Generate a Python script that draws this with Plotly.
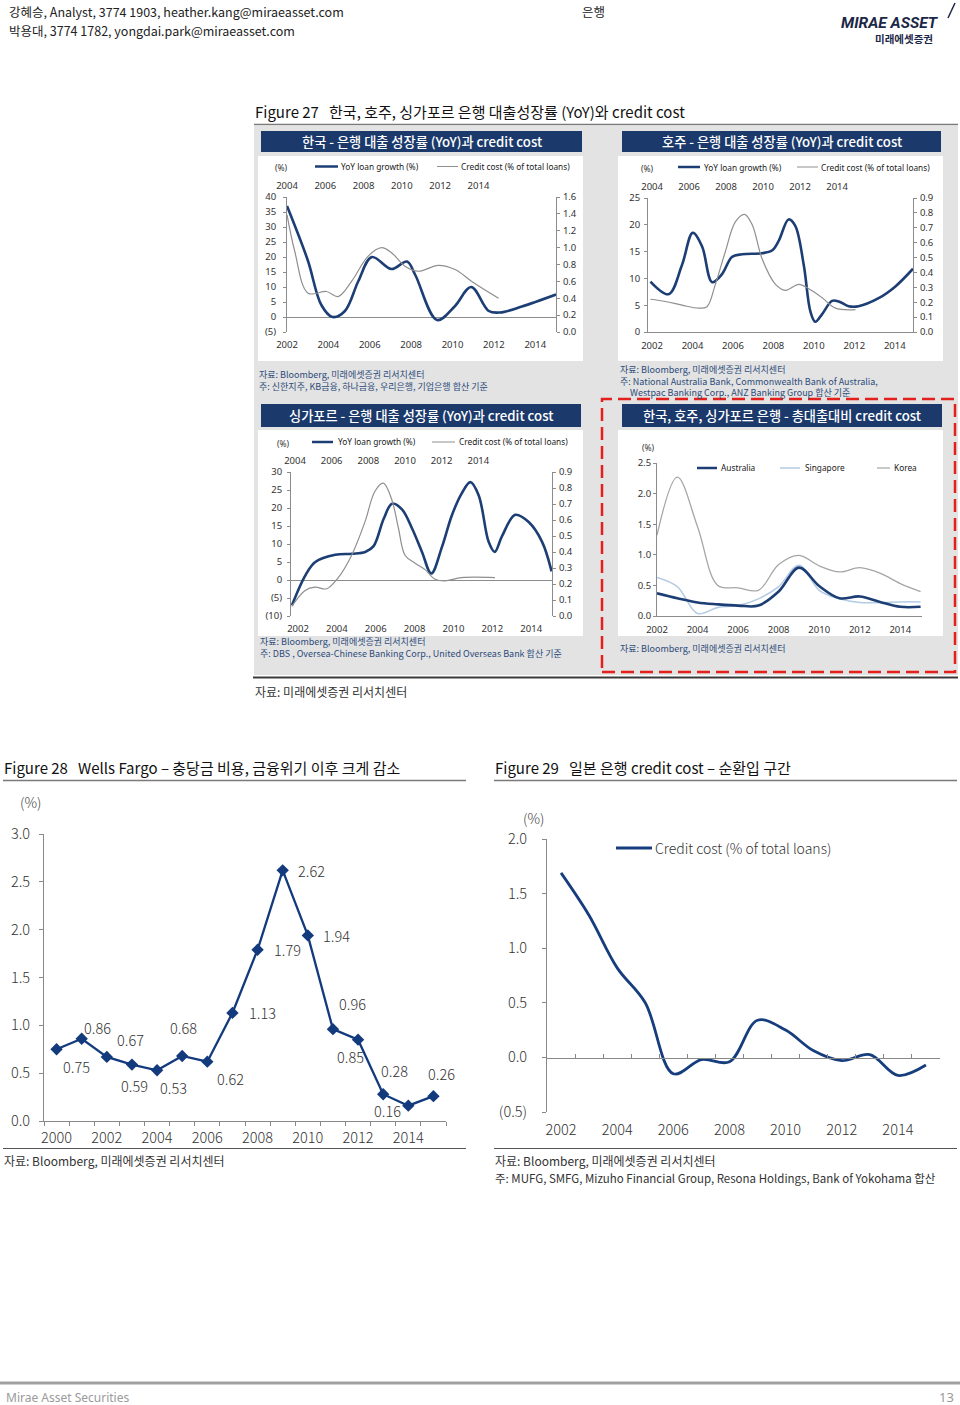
import plotly.graph_objects as go

W, H = 960, 1405
KR = "Noto Sans CJK KR"
SANS = "Noto Sans"

# ---------------- data ----------------
# Figure 27 (a) Korea: YoY loan growth (bottom axis) and credit cost (top axis)
kr_growth_years = [2002.0, 2003.0, 2003.66, 2004.2, 2004.8, 2005.45, 2006.1, 2007.05, 2007.8,
                   2008.2, 2009.25, 2010.1, 2010.9, 2011.75, 2012.3, 2013.35, 2015.0]
kr_growth = [37, 19, 4, 0, 2, 12, 20, 16, 18.5, 14, -1, 3.5, 10, 2, 1.5, 3.5, 7.5]
kr_cost_years = [2004.0, 2004.4, 2005.1, 2006.06, 2006.67, 2007.37, 2008.24, 2008.94, 2009.46,
                 2010.16, 2010.86, 2011.9, 2012.78, 2013.65, 2015.05]
kr_cost = [1.39, 0.96, 0.46, 0.48, 0.42, 0.6, 0.9, 1.0, 0.94, 0.78, 0.72, 0.79, 0.74, 0.6, 0.4]

# Figure 27 (b) Australia
au_growth_years = [2001.92, 2002.82, 2003.48, 2004.01, 2004.47, 2004.97, 2005.46, 2005.95, 2006.45,
                   2007.44, 2007.93, 2008.26, 2008.75, 2009.08, 2009.5, 2009.83, 2010.07, 2010.4,
                   2010.9, 2011.23, 2011.72, 2012.21, 2013.2, 2014.03, 2014.9]
au_growth = [9.4, 7.05, 12.5, 18.5, 16.0, 9.3, 10.8, 14.0, 14.5, 14.7, 15.2, 17.0, 21.0, 19.8,
             12.5, 3.8, 1.9, 3.3, 5.8, 5.7, 4.8, 4.8, 6.3, 8.5, 11.8]
au_cost_years = [2003.91, 2004.72, 2005.62, 2006.52, 2006.97, 2007.42, 2007.96, 2008.5, 2009.0,
                 2009.41, 2009.95, 2010.67, 2011.21, 2011.93, 2012.47, 2013.19, 2013.91, 2014.99]
au_cost = [0.22, 0.205, 0.18, 0.16, 0.17, 0.32, 0.54, 0.74, 0.79, 0.72, 0.49, 0.32, 0.28, 0.32,
           0.29, 0.23, 0.16, 0.15]

# Figure 27 (c) Singapore
sg_growth_years = [2001.69, 2002.38, 2002.89, 2003.92, 2004.78, 2005.46, 2005.89, 2006.41, 2006.84,
                   2007.35, 2007.87, 2008.38, 2008.86, 2009.41, 2009.92, 2010.44, 2010.87, 2011.3,
                   2011.81, 2012.12, 2012.5, 2013.18, 2013.87, 2014.56, 2015.05]
sg_growth = [-7, 1.3, 5, 7, 7.3, 7.8, 9.4, 17, 21.2, 19.6, 14.3, 7.8, 1.8, 9.2, 18, 24.2, 27.2,
             23.5, 10.6, 7.8, 12.2, 18.1, 16.1, 10.6, 2.4]
sg_cost_years = [2003.82, 2004.55, 2005.09, 2005.73, 2006.36, 2007.09, 2007.82, 2008.36, 2008.82,
                 2009.27, 2009.64, 2010.0, 2010.55, 2011.09, 2011.64, 2012.18, 2013.09, 2014.91]
sg_cost = [0.06, 0.16, 0.18, 0.17, 0.24, 0.38, 0.59, 0.78, 0.83, 0.73, 0.55, 0.38, 0.33, 0.29,
           0.23, 0.22, 0.24, 0.24]

# Figure 27 (d) credit cost comparison
cmp_years = list(range(2002, 2016))
cmp_australia = [0.37, 0.29, 0.22, 0.19, 0.17, 0.17, 0.40, 0.79, 0.49, 0.29, 0.32, 0.23, 0.15, 0.15]
cmp_singapore = [0.63, 0.48, 0.04, 0.14, 0.17, 0.28, 0.48, 0.83, 0.42, 0.28, 0.22, 0.22, 0.23, 0.23]
cmp_korea = [1.32, 2.27, 1.46, 0.50, 0.46, 0.42, 0.84, 0.99, 0.82, 0.72, 0.79, 0.70, 0.53, 0.40]

# Figure 28 Wells Fargo
wf_years = list(range(2000, 2016))
wf_cost = [0.75, 0.86, 0.67, 0.59, 0.53, 0.68, 0.62, 1.13, 1.79, 2.62, 1.94, 0.96, 0.85, 0.28, 0.16, 0.26]

# Figure 29 Japan
jp_years = list(range(2002, 2016))
jp_cost = [1.69, 1.30, 0.82, 0.50, -0.15, -0.02, -0.04, 0.34, 0.25, 0.06, -0.03, 0.025, -0.165, -0.07]

# tick labels
inset_bottom_ticks = [2002, 2004, 2006, 2008, 2010, 2012, 2014]
inset_top_ticks = [2004, 2006, 2008, 2010, 2012, 2014]
wf_year_ticks = [2000, 2002, 2004, 2006, 2008, 2010, 2012, 2014]
jp_year_ticks = [2002, 2004, 2006, 2008, 2010, 2012, 2014]

# ---------------- helpers ----------------
annotations, shapes = [], []


def X(px):
    return px / W


def Y(py):
    return 1 - py / H


def text(x, y, s, size=12, color="#222", xa="left", ya="middle", family=KR, weight=None, align=None):
    f = dict(size=size, color=color, family=family)
    if weight:
        f["weight"] = weight
    a = dict(x=X(x), y=Y(y), xref="paper", yref="paper", text=s, showarrow=False,
             xanchor=xa, yanchor=ya, font=f, borderpad=0)
    if align:
        a["align"] = align
    annotations.append(a)


def rect(x0, y0, x1, y1, fill=None, line=None, width=1, dash=None, layer="below"):
    shapes.append(dict(type="rect", xref="paper", yref="paper", x0=X(x0), x1=X(x1),
                       y0=Y(y1), y1=Y(y0), fillcolor=fill or "rgba(0,0,0,0)",
                       line=dict(color=line or "rgba(0,0,0,0)", width=width if line else 0,
                                 dash=dash), layer=layer))


def seg(x0, y0, x1, y1, color, width=1, layer="above"):
    shapes.append(dict(type="line", xref="paper", yref="paper", x0=X(x0), x1=X(x1),
                       y0=Y(y0), y1=Y(y1), line=dict(color=color, width=width), layer=layer))


def hline(x0, x1, y, color, width=1, layer="above"):
    seg(x0, y, x1, y, color, width, layer)


def dom_x(a, b):
    return [X(a), X(b)]


def dom_y(top, bottom):
    return [Y(bottom), Y(top)]


NAVY = "#1c3e75"
BAR = "#1b3a6b"
GRAY = "#8f8f8f"
AX = "#8c8c8c"
SRC = "#2d4b7a"
TICK9 = dict(size=9.5, color="#333", family=SANS)


def neg_label(v, fmt="{:g}"):
    return "(" + fmt.format(-v) + ")" if v < 0 else fmt.format(v)


def xaxis_years(dom, rng, vals, **kw):
    d = dict(range=rng, tickmode="array", tickvals=vals,
             ticktext=[str(v) for v in vals], showgrid=False, zeroline=False,
             showline=False, ticks="", tickfont=TICK9, fixedrange=True, automargin=False)
    if dom is not None:
        d["domain"] = dom
    d.update(kw)
    return d


def yaxis_vals(dom, rng, vals, fmt="{:g}", **kw):
    d = dict(range=rng, tickmode="array", tickvals=vals,
             ticktext=[neg_label(v, fmt) for v in vals], showgrid=False, zeroline=False,
             showline=True, linecolor=AX, linewidth=1, ticks="outside", ticklen=3,
             tickcolor=AX, tickfont=TICK9, fixedrange=True, automargin=False)
    if dom is not None:
        d["domain"] = dom
    d.update(kw)
    return d


# ---------------- page furniture ----------------
text(8, 12, "강혜승, Analyst, 3774 1903, heather.kang@miraeasset.com", size=12.5, color="#222")
text(8, 30, "박용대, 3774 1782, yongdai.park@miraeasset.com", size=12.5, color="#222")
text(593, 12, "은행", size=12.5, xa="center", color="#222")
text(890, 23, "<b><i>MIRAE ASSET</i></b>", size=15.5, xa="center", color="#1b2747", family="Roboto")
text(904, 38.5, "<b>미래에셋증권</b>", size=10.5, xa="center", color="#1b2747")
seg(948, 18, 955, 3, "#1b2747", 1.5)

# Figure 27
text(254, 111, "Figure 27   한국, 호주, 싱가포르 은행 대출성장률 (YoY)와 credit cost", size=15, color="#111")
hline(254, 958, 124.5, "#7a7a7a", 1.5)
rect(254, 126, 958, 675, fill="#e3e3e3")
hline(253, 958, 677.5, "#3a3a3a", 2)
for (x0, y0, x1, y1) in [(258, 156, 583, 361), (618, 156, 943, 361), (258, 430, 583, 636), (618, 430, 943, 636)]:
    rect(x0, y0, x1, y1, fill="white")
bars = [((261, 131, 582, 152), "한국 - 은행 대출 성장률 (YoY)과 credit cost"),
        ((622, 131, 941, 152), "호주 - 은행 대출 성장률 (YoY)과 credit cost"),
        ((261, 404, 581, 427), "싱가포르 - 은행 대출 성장률 (YoY)과 credit cost"),
        ((622, 404, 942, 427), "한국, 호주, 싱가포르 은행 - 총대출대비 credit cost")]
for (x0, y0, x1, y1), t in bars:
    rect(x0, y0, x1, y1, fill=BAR)
    text((x0 + x1) / 2, (y0 + y1) / 2 + 0.5, t, size=13.2, color="white", xa="center", weight=500)
rect(602, 399, 955, 672, line="#e3201b", width=2.5, dash="13px,6px", layer="above")

# inset legends
for (px, lx0, lx1, ly, tx, gx0, gx1, gtx) in [(281, 315, 338, 166.5, 340, 437, 458, 460),
                                               (647, 678, 700, 167, 703, 797, 818, 820),
                                               (283, 312, 333, 442, 337, 432, 455, 458)]:
    text(px, ly + 1.5, "(%)", size=8.5, color="#333", xa="center", family=SANS)
    hline(lx0, lx1, ly, NAVY, 2.5)
    text(tx, ly, "YoY loan growth (%)", size=8.3, color="#222", family=SANS)
    hline(gx0, gx1, ly, GRAY, 1)
    text(gtx, ly, "Credit cost (% of total loans)", size=8.3, color="#222", family=SANS)

text(648, 447, "(%)", size=8.5, color="#333", xa="center", family=SANS)
hline(697, 717, 468, NAVY, 2.5)
text(720, 468, "Australia", size=8.3, color="#222", family=SANS)
hline(780, 800, 468, "#b3cbe3", 1.5)
text(804, 468, "Singapore", size=8.3, color="#222", family=SANS)
hline(877, 890, 468, "#a6a6a6", 1.2)
text(893, 468, "Korea", size=8.3, color="#222", family=SANS)

# inset sources (multi-line blocks)
SRC_SIZE = 9.0
NB = "\u00a0"
text(258, 380, "자료: Bloomberg, 미래에셋증권 리서치센터<br>주: 신한지주, KB금융, 하나금융, 우리은행, 기업은행 합산 기준",
     size=SRC_SIZE, color=SRC, align="left")
text(619, 380.5, "자료: Bloomberg, 미래에셋증권 리서치센터<br>주: National Australia Bank, Commonwealth Bank of Australia,<br>"
     + NB * 5 + "Westpac Banking Corp., ANZ Banking Group 합산 기준",
     size=SRC_SIZE, color=SRC, align="left")
text(259, 647.5, "자료: Bloomberg, 미래에셋증권 리서치센터<br>주: DBS , Oversea-Chinese Banking Corp., United Overseas Bank 합산 기준",
     size=SRC_SIZE, color=SRC, align="left")
text(619, 648.5, "자료: Bloomberg, 미래에셋증권 리서치센터", size=SRC_SIZE, color=SRC)

text(254, 691, "자료: 미래에셋증권 리서치센터", size=12, color="#333")

# Figure 28 / 29 titles and notes
text(3, 767, "Figure 28   Wells Fargo – 충당금 비용, 금융위기 이후 크게 감소", size=15, color="#111")
hline(3, 466, 780.5, "#7a7a7a", 1.5)
text(494, 767, "Figure 29   일본 은행 credit cost – 순환입 구간", size=15, color="#111")
hline(494, 957, 780.5, "#7a7a7a", 1.5)
text(30, 802, "(%)", size=14, color="#444", xa="center", weight=300)
text(533, 818, "(%)", size=14, color="#444", xa="center", weight=300)
hline(616, 652, 848, "#163d7d", 3)
text(654, 848, "Credit cost (% of total loans)", size=14, color="#333", weight=300)
hline(3, 466, 1148.5, "#555", 1)
hline(494, 957, 1148.5, "#555", 1)
text(3, 1160, "자료: Bloomberg, 미래에셋증권 리서치센터", size=12, color="#333")
text(494, 1160, "자료: Bloomberg, 미래에셋증권 리서치센터", size=12, color="#333")
text(494, 1178, "주: MUFG, SMFG, Mizuho Financial Group, Resona Holdings, Bank of Yokohama 합산", size=11.5, color="#333")

# footer
hline(0, 960, 1383, "#a0a0a0", 3)
text(5, 1397, "Mirae Asset Securities", size=12, color="#9a9a9a", family=SANS)
text(955, 1397, "13", size=13, color="#9a9a9a", xa="right", family=SANS)

# ---------------- traces ----------------
fig = go.Figure()


def line(x, y, xa, ya, color, width, shape="spline"):
    fig.add_trace(go.Scatter(x=x, y=y, xaxis=xa, yaxis=ya, mode="lines",
                             line=dict(color=color, width=width, shape=shape, smoothing=1.0),
                             hoverinfo="skip", showlegend=False))


line(kr_cost_years, kr_cost, "x2", "y2", GRAY, 1.2)
line(kr_growth_years, kr_growth, "x", "y", NAVY, 2.6)
line(au_cost_years, au_cost, "x4", "y4", GRAY, 1.2)
line(au_growth_years, au_growth, "x3", "y3", NAVY, 2.6)
line(sg_cost_years, sg_cost, "x6", "y6", GRAY, 1.2)
line(sg_growth_years, sg_growth, "x5", "y5", NAVY, 2.6)
line(cmp_years, cmp_korea, "x7", "y7", "#a6a6a6", 1.3)
line(cmp_years, cmp_singapore, "x7", "y7", "#b3cbe3", 1.5)
line(cmp_years, cmp_australia, "x7", "y7", NAVY, 2.6)

WF = "#123a7c"
fig.add_trace(go.Scatter(x=wf_years, y=wf_cost, xaxis="x8", yaxis="y8", mode="lines+markers",
                         line=dict(color=WF, width=2.3),
                         marker=dict(symbol="diamond", size=9.5, color=WF),
                         hoverinfo="skip", showlegend=False))
fig.add_trace(go.Scatter(x=[None], y=[None], xaxis="x9", yaxis="y8", mode="lines",
                         hoverinfo="skip", showlegend=False))
line(jp_years, jp_cost, "x10", "y10", "#163d7d", 2.8)
fig.add_trace(go.Scatter(x=[None], y=[None], xaxis="x11", yaxis="y10", mode="lines",
                         hoverinfo="skip", showlegend=False))

# data labels for Wells Fargo (pixel offsets from each point)
wf_label_offsets = [(20, 17), (16, -11), (24, -17), (3, 21), (16, 17), (1, -28), (23, 17), (30, 0),
                    (30, 0), (29, 0), (29, 0), (20, -26), (-8, 17), (11, -24), (-21, 5), (8, -23)]
for yr, v, (dx, dy) in zip(wf_years, wf_cost, wf_label_offsets):
    annotations.append(dict(x=yr, y=v, xref="x8", yref="y8", text=f"{v:.2f}", showarrow=False,
                            xshift=dx, yshift=-dy, font=dict(size=14.5, color="#333", family=KR, weight=300)))

# ---------------- axes ----------------
layout = dict(width=W, height=H, margin=dict(l=0, r=0, t=0, b=0, pad=0, autoexpand=False),
              autosize=False, paper_bgcolor="white", plot_bgcolor="rgba(0,0,0,0)",
              showlegend=False, hovermode=False, font=dict(family=KR),
              shapes=shapes, annotations=annotations)

# (a) Korea
layout["xaxis"] = xaxis_years(dom_x(287, 556), [2002, 2015], inset_bottom_ticks, anchor="y",
                              ticklabelstandoff=5)
layout["xaxis2"] = xaxis_years(None, [2004, 2018.05], inset_top_ticks, overlaying="x", side="top",
                               anchor="y", ticklabelstandoff=5)
layout["yaxis"] = yaxis_vals(dom_y(197, 332), [-5, 40], list(range(-5, 41, 5)), anchor="x",
                             zeroline=True, zerolinecolor=AX, zerolinewidth=1, ticklabelstandoff=5)
layout["yaxis2"] = yaxis_vals(None, [0, 1.6], [i / 5 for i in range(9)], fmt="{:.1f}",
                              overlaying="y", side="right", anchor="x", ticklabelstandoff=1)

# (b) Australia
layout["xaxis3"] = xaxis_years(dom_x(648, 913), [2001.8, 2014.9], inset_bottom_ticks, anchor="y3",
                               showline=True, linecolor=AX, ticklabelstandoff=5)
layout["xaxis4"] = xaxis_years(None, [2003.78, 2018.1], inset_top_ticks, overlaying="x3",
                               side="top", anchor="y3", ticklabelstandoff=5)
layout["yaxis3"] = yaxis_vals(dom_y(198, 332), [0, 25], list(range(0, 26, 5)), anchor="x3",
                              ticklabelstandoff=2)
layout["yaxis4"] = yaxis_vals(None, [0, 0.9], [i / 10 for i in range(10)], fmt="{:.1f}",
                              overlaying="y3", side="right", anchor="x3", ticklabelstandoff=1)

# (c) Singapore
layout["xaxis5"] = xaxis_years(dom_x(291, 552), [2001.64, 2015.07], inset_bottom_ticks,
                               anchor="y5", ticklabelstandoff=5)
layout["xaxis6"] = xaxis_years(None, [2003.78, 2018.02], inset_top_ticks, overlaying="x5",
                               side="top", anchor="y5", ticklabelstandoff=5)
layout["yaxis5"] = yaxis_vals(dom_y(472, 616), [-10, 30], list(range(-10, 31, 5)), anchor="x5",
                              zeroline=True, zerolinecolor=AX, zerolinewidth=1, ticklabelstandoff=3)
layout["yaxis6"] = yaxis_vals(None, [0, 0.9], [i / 10 for i in range(10)], fmt="{:.1f}",
                              overlaying="y5", side="right", anchor="x5", ticklabelstandoff=1)

# (d) comparison
layout["xaxis7"] = xaxis_years(dom_x(657, 922), [2002, 2015.07], inset_bottom_ticks, anchor="y7",
                               showline=True, linecolor=AX, ticklabelstandoff=5)
layout["yaxis7"] = yaxis_vals(dom_y(463, 616), [0, 2.5], [0, 0.5, 1.0, 1.5, 2.0, 2.5],
                              fmt="{:.1f}", anchor="x7", ticklabelstandoff=0)

BIGTICK = dict(size=14.5, color="#333", family=KR, weight=300)

# Figure 28
layout["xaxis8"] = xaxis_years(dom_x(44, 446), [1999.5, 2015.5], wf_year_ticks, anchor="y8",
                               tickfont=BIGTICK, ticklabelstandoff=6)
layout["xaxis9"] = dict(overlaying="x8", anchor="y8", range=[1999.5, 2015.5], tickmode="array",
                        tickvals=[1999.5 + i for i in range(17)], showticklabels=False,
                        ticks="outside", ticklen=4, tickcolor="#888", showline=True,
                        linecolor="#888", showgrid=False, zeroline=False, fixedrange=True,
                        automargin=False)
layout["yaxis8"] = yaxis_vals(dom_y(834, 1121), [0, 3.0], [0, 0.5, 1.0, 1.5, 2.0, 2.5, 3.0],
                              fmt="{:.1f}", anchor="x8", tickfont=BIGTICK, ticklen=4,
                              linecolor="#888", tickcolor="#888", ticklabelstandoff=6)

# Figure 29
layout["xaxis10"] = xaxis_years(dom_x(547, 940), [2001.5, 2015.5], jp_year_ticks, anchor="y10",
                                tickfont=BIGTICK, ticklabelstandoff=7)
layout["xaxis11"] = dict(overlaying="x10", anchor="free", position=Y(1058), range=[2001.5, 2015.5],
                         tickmode="array", tickvals=[2001.5 + i for i in range(15)],
                         showticklabels=False, ticks="inside", ticklen=4, tickcolor="#888",
                         showline=True, linecolor="#888", showgrid=False, zeroline=False,
                         fixedrange=True, automargin=False)
layout["yaxis10"] = yaxis_vals(dom_y(839, 1112), [-0.5, 2.0], [-0.5, 0, 0.5, 1.0, 1.5, 2.0],
                               fmt="{:.1f}", anchor="x10", tickfont=BIGTICK, ticklen=4,
                               linecolor="#888", tickcolor="#888", ticklabelstandoff=12)

fig.update_layout(**layout)

fig.write_html("out.html", config={"displayModeBar": False, "staticPlot": True},
               post_script="document.body.style.margin='0';document.body.style.overflow='hidden';")
